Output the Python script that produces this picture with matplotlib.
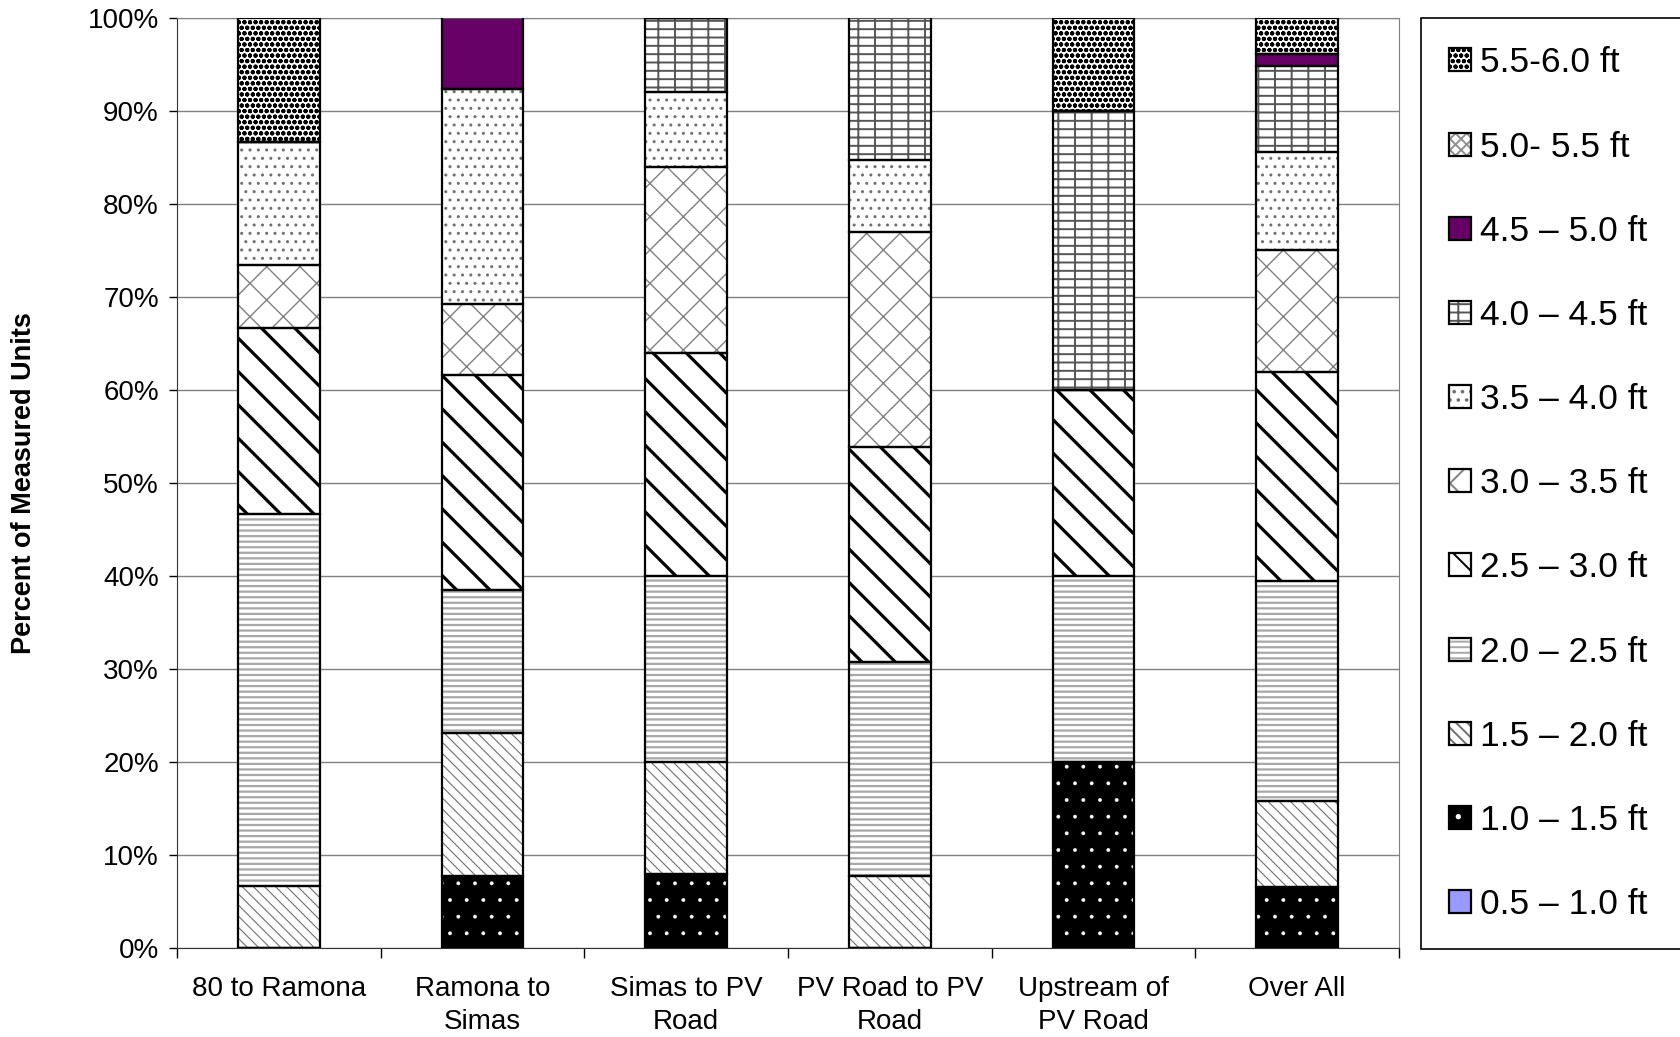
import matplotlib
matplotlib.use('Agg')
import matplotlib.pyplot as plt
from matplotlib.patches import Patch
from matplotlib.legend_handler import HandlerTuple
import numpy as np

plt.rcParams['font.family'] = ['Liberation Sans', 'DejaVu Sans']

# DATI (percentuali, dal basso verso l'alto)
tratti = ['80 to Ramona', 'Ramona to\nSimas', 'Simas to PV\nRoad',
          'PV Road to PV\nRoad', 'Upstream of\nPV Road', 'Over All']

p_05_10 = [0, 0, 0, 0, 0, 0]
p_10_15 = [0, 7.7, 8, 0, 20, 6.6]
p_15_20 = [6.7, 15.4, 12, 7.7, 0, 9.2]
p_20_25 = [40, 15.4, 20, 23.1, 20, 23.7]
p_25_30 = [20, 23.1, 24, 23.1, 20, 22.4]
p_30_35 = [6.7, 7.7, 20, 23.1, 0, 13.2]
p_35_40 = [13.3, 23.1, 8, 7.7, 0, 10.5]
p_40_45 = [0, 0, 8, 15.4, 30, 9.2]
p_45_50 = [0, 7.7, 0, 0, 0, 1.3]
p_50_55 = [0, 0, 0, 0, 0, 0]
p_55_60 = [13.3, 0, 0, 0, 10, 3.9]

classi = ['0.5 – 1.0 ft', '1.0 – 1.5 ft', '1.5 – 2.0 ft', '2.0 – 2.5 ft',
          '2.5 – 3.0 ft', '3.0 – 3.5 ft', '3.5 – 4.0 ft', '4.0 – 4.5 ft',
          '4.5 – 5.0 ft', '5.0- 5.5 ft', '5.5-6.0 ft']
valori = [p_05_10, p_10_15, p_15_20, p_20_25, p_25_30, p_30_35,
          p_35_40, p_40_45, p_45_50, p_50_55, p_55_60]

# STILI: (sfondo, colore tratteggio, tratteggio, spessore tratteggio)
stili = [
    ('#9999FF', '#9999FF', None, 1),
    ('black', 'white', '.', 0.3),
    ('white', '#707070', '\\\\\\', 0.8),
    ('white', '#a8a8a8', '---', 1.6),
    ('white', 'black', '\\', 2.3),
    ('white', '#808080', 'x', 1),
    ('white', '#707070', '..', 1),
    ('white', '#555555', '--|', 1.4),
    ('#660066', '#660066', None, 1),
    ('white', '#909090', 'xxx', 0.8),
    ('white', 'black', 'ooo', 1.4),
]

# FIGURA
fig = plt.figure(figsize=(16.8, 10.37), dpi=100)
ax = fig.add_axes([177 / 1680, 1 - 948 / 1037, 1222 / 1680, 930 / 1037])

x = np.arange(len(tratti))
base = np.zeros(len(tratti))
larghezza = 0.4
handles = []

for nome, val, (fc, hc, h, lw) in zip(classi, valori, stili):
    plt.rcParams['hatch.linewidth'] = lw
    val = np.array(val, dtype=float)
    fondo = ax.bar(x, val, larghezza, bottom=base, facecolor=fc, edgecolor=hc,
                   hatch=h, linewidth=0, zorder=2)
    for p in fondo:
        if hasattr(p, 'set_hatch_linewidth'):
            p.set_hatch_linewidth(lw)
    ax.bar(x, val, larghezza, bottom=base, fill=False, edgecolor='black',
           linewidth=1.6, zorder=3)
    base += val

    # maniglia per la legenda: tratteggio + bordo
    h1 = Patch(facecolor=fc, edgecolor=hc, hatch=h, linewidth=0)
    if hasattr(h1, 'set_hatch_linewidth'):
        h1.set_hatch_linewidth(lw)
    h2 = Patch(fill=False, edgecolor='black', linewidth=1.6)
    handles.append((h1, h2))

# ASSI
ax.set_xlim(-0.5, 5.5)
ax.set_ylim(0, 100)
ax.set_yticks(np.arange(0, 101, 10))
ax.set_yticklabels([f'{v}%' for v in range(0, 101, 10)])
ax.yaxis.grid(True, color='#808080', linewidth=1)
ax.set_axisbelow(True)

ax.set_xticks(np.arange(-0.5, 6, 1))
ax.set_xticklabels([])
ax.set_xticks(x, minor=True)
ax.set_xticklabels(tratti, minor=True, linespacing=1.35)
ax.tick_params(axis='x', which='major', length=7, width=1, direction='out')
ax.tick_params(axis='x', which='minor', length=0, pad=20.5, labelsize=20)
ax.tick_params(axis='y', length=6, width=1, pad=7, labelsize=20)

for s in ['left', 'bottom']:
    ax.spines[s].set_color('#333333')
for s in ['top', 'right']:
    ax.spines[s].set_color('#808080')

fig.text(24 / 1680, 0.534, 'Percent of Measured Units', rotation=90,
         ha='center', va='center', fontsize=19.5, fontweight='bold')

# LEGENDA (ordine inverso), esce oltre il bordo destro come nell'originale
leg = fig.legend(handles[::-1], classi[::-1], loc='upper left',
                 bbox_to_anchor=(1421 / 1680, 0, 0.3, 1 - 18 / 1037),
                 bbox_transform=fig.transFigure, borderaxespad=0, mode='expand',
                 fancybox=False, edgecolor='black', framealpha=1,
                 fontsize=25.5, handlelength=0.62, handleheight=0.62,
                 handletextpad=0.25, labelspacing=1.445, borderpad=0.8,
                 handler_map={tuple: HandlerTuple(ndivide=1, pad=0)})
leg.get_frame().set_linewidth(1.2)

fig.savefig('out.png', dpi=100)
